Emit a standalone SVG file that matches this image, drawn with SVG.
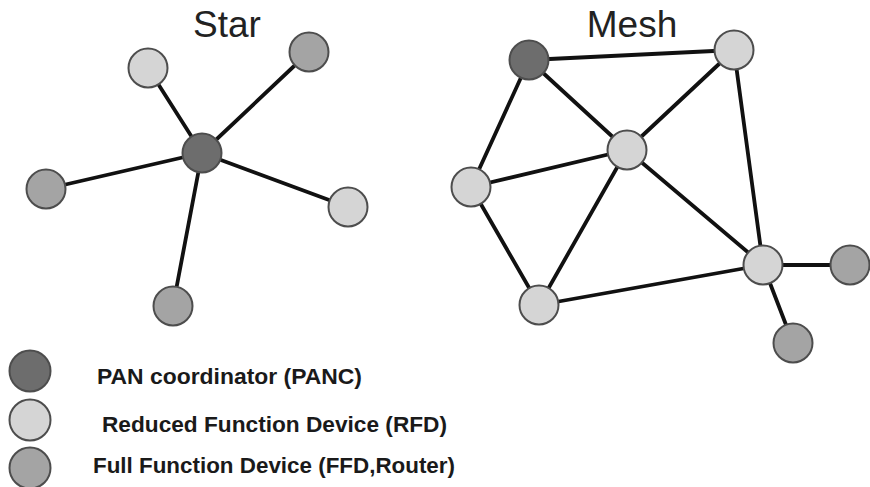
<svg xmlns="http://www.w3.org/2000/svg" width="870" height="487" viewBox="0 0 870 487">
<style>
.edge{stroke:#111;stroke-width:3.8;stroke-linecap:round;fill:none}
.n{stroke:#4d4d4d;stroke-width:2}
.panc{fill:#6d6d6d}
.rfd{fill:#d5d5d5}
.ffd{fill:#a4a4a4}
.title{font-family:"Liberation Sans",Arial,sans-serif;font-size:37px;fill:#222}
.leg{font-family:"Liberation Sans",Arial,sans-serif;font-size:22px;font-weight:bold;fill:#1a1a1a}
</style>
<rect width="870" height="487" fill="#fff"/>
<text class="title" x="227" y="37" text-anchor="middle">Star</text>
<text class="title" x="632" y="37" text-anchor="middle">Mesh</text>
<g id="connectors">
<line class="edge" x1="202" y1="153" x2="148" y2="68"/>
<line class="edge" x1="202" y1="153" x2="309" y2="52"/>
<line class="edge" x1="202" y1="153" x2="46" y2="189"/>
<line class="edge" x1="202" y1="153" x2="348" y2="207"/>
<line class="edge" x1="202" y1="153" x2="173" y2="306"/>
<line class="edge" x1="529" y1="60" x2="734" y2="50"/>
<line class="edge" x1="529" y1="60" x2="627" y2="150"/>
<line class="edge" x1="529" y1="60" x2="471" y2="187"/>
<line class="edge" x1="734" y1="50" x2="627" y2="150"/>
<line class="edge" x1="734" y1="50" x2="763" y2="265"/>
<line class="edge" x1="627" y1="150" x2="471" y2="187"/>
<line class="edge" x1="627" y1="150" x2="539" y2="305"/>
<line class="edge" x1="627" y1="150" x2="763" y2="265"/>
<line class="edge" x1="471" y1="187" x2="539" y2="305"/>
<line class="edge" x1="539" y1="305" x2="763" y2="265"/>
<line class="edge" x1="763" y1="265" x2="850" y2="265"/>
<line class="edge" x1="763" y1="265" x2="793" y2="343"/>
</g>
<g id="star-center"><circle class="n panc" cx="202" cy="153" r="19.5"/></g>
<g id="star-tl"><circle class="n rfd" cx="148" cy="68" r="19.5"/></g>
<g id="star-tr"><circle class="n ffd" cx="309" cy="52" r="19.5"/></g>
<g id="star-l"><circle class="n ffd" cx="46" cy="189" r="19.5"/></g>
<g id="star-r"><circle class="n rfd" cx="348" cy="207" r="19.5"/></g>
<g id="star-b"><circle class="n ffd" cx="173" cy="306" r="19.5"/></g>
<g id="mesh-panc"><circle class="n panc" cx="529" cy="60" r="19.5"/></g>
<g id="mesh-tr"><circle class="n rfd" cx="734" cy="50" r="19.5"/></g>
<g id="mesh-c"><circle class="n rfd" cx="627" cy="150" r="19.5"/></g>
<g id="mesh-l"><circle class="n rfd" cx="471" cy="187" r="19.5"/></g>
<g id="mesh-bl"><circle class="n rfd" cx="539" cy="305" r="19.5"/></g>
<g id="mesh-r"><circle class="n rfd" cx="763" cy="265" r="19.5"/></g>
<g id="mesh-fr"><circle class="n ffd" cx="850" cy="265" r="19.5"/></g>
<g id="mesh-b"><circle class="n ffd" cx="793" cy="343" r="19.5"/></g>
<g id="legend-panc"><circle class="n panc" cx="30" cy="371" r="20.5"/><text class="leg" x="97" y="384" textLength="265" lengthAdjust="spacingAndGlyphs">PAN coordinator (PANC)</text></g>
<g id="legend-rfd"><circle class="n rfd" cx="30" cy="420" r="20.5"/><text class="leg" x="102" y="432" textLength="345" lengthAdjust="spacingAndGlyphs">Reduced Function Device (RFD)</text></g>
<g id="legend-ffd"><circle class="n ffd" cx="30" cy="468" r="20.5"/><text class="leg" x="93" y="473" textLength="362" lengthAdjust="spacingAndGlyphs">Full Function Device (FFD,Router)</text></g>
</svg>
